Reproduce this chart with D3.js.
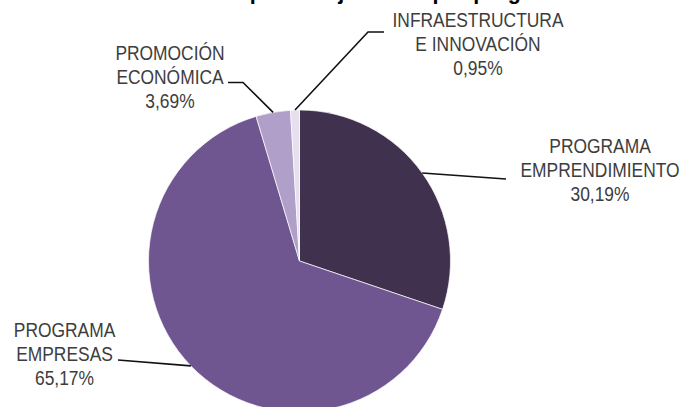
<!DOCTYPE html>
<html>
<head>
<meta charset="utf-8">
<script src="https://cdn.jsdelivr.net/npm/d3@7"></script>
<style>
  body { margin: 0; background: #fff; }
  svg { display: block; }
</style>
</head>
<body>
<svg id="pie-chart"></svg>
<script>
let svgWidth = 684;
let svgHeight = 407;

// Data
let programas = ['PROGRAMA EMPRENDIMIENTO', 'PROGRAMA EMPRESAS', 'PROMOCIÓN ECONÓMICA', 'INFRAESTRUCTURA E INNOVACIÓN'];
let labelLines = [['PROGRAMA', 'EMPRENDIMIENTO'], ['PROGRAMA', 'EMPRESAS'], ['PROMOCIÓN', 'ECONÓMICA'], ['INFRAESTRUCTURA', 'E INNOVACIÓN']];
let porcentajes = [30.19, 65.17, 3.69, 0.95];
let colores = ['#40314f', '#6f5691', '#b09fc8', '#e5dfee'];

// label layout: text centre, first baseline, elbow and end of the leader line
let labelLayout = [
  { x: 600, y: 152.5, line: [[506, 179]] },
  { x: 64.5, y: 336.5, line: [[118, 360]] },
  { x: 170, y: 59.5, line: [[243, 82.5], [228, 82.5]] },
  { x: 478, y: 26.5, line: [[368, 32], [384, 32]] }
];

let es = d3.formatLocale({ decimal: ',', thousands: '.', grouping: [3], currency: ['', '€'] });
let fmt = es.format('.2f');

let svg = d3.select('#pie-chart')
            .attr('width', svgWidth)
            .attr('height', svgHeight);

// title, mostly cropped off the top of the picture (only descenders show)
svg.append('text')
   .attr('x', 190)
   .attr('y', -1.5)
   .style('font-family', '"Liberation Sans", Arial, sans-serif')
   .style('font-weight', 'bold')
   .style('font-size', '21.5px')
   .style('fill', '#000')
   .text('Presupuesto ejecutado por programa');

let cx = 299.5, cy = 261, radius = 151;

let data = programas.map((p, i) => ({ name: p, lines: labelLines[i], value: porcentajes[i], color: colores[i], layout: labelLayout[i] }));

let pie = d3.pie().sort(null).value(d => d.value);
let arcs = pie(data);

let arc = d3.arc().innerRadius(0).outerRadius(radius);

let g = svg.append('g').attr('transform', `translate(${cx},${cy})`);

g.selectAll('.slice')
 .data(arcs)
 .join('path')
 .classed('slice', true)
 .attr('d', arc)
 .style('fill', d => d.data.color)
 .style('stroke', '#ffffff')
 .style('stroke-width', 0.7);

// leader lines start on the rim at the middle of each slice
let lineGen = d3.line();
svg.selectAll('.leader')
   .data(arcs)
   .join('path')
   .classed('leader', true)
   .attr('d', d => {
     let a = (d.startAngle + d.endAngle) / 2;
     let start = [cx + radius * Math.sin(a), cy - radius * Math.cos(a)];
     return lineGen([start].concat(d.data.layout.line));
   })
   .style('fill', 'none')
   .style('stroke', '#111')
   .style('stroke-width', 1.6);

let labels = svg.selectAll('.slice-label')
   .data(arcs)
   .join('text')
   .classed('slice-label', true)
   .attr('transform', d => `translate(${d.data.layout.x},${d.data.layout.y}) scale(0.87,1)`)
   .attr('text-anchor', 'middle')
   .style('font-family', '"Liberation Sans", Arial, sans-serif')
   .style('font-size', '20px')
   .style('fill', '#3d3d3d');

labels.each(function(d) {
  let t = d3.select(this);
  let lines = d.data.lines.concat([fmt(d.data.value) + '%']);
  lines.forEach((l, i) => {
    t.append('tspan')
     .attr('x', 0)
     .attr('y', i * 24.5)
     .text(l);
  });
});
</script>
</body>
</html>
